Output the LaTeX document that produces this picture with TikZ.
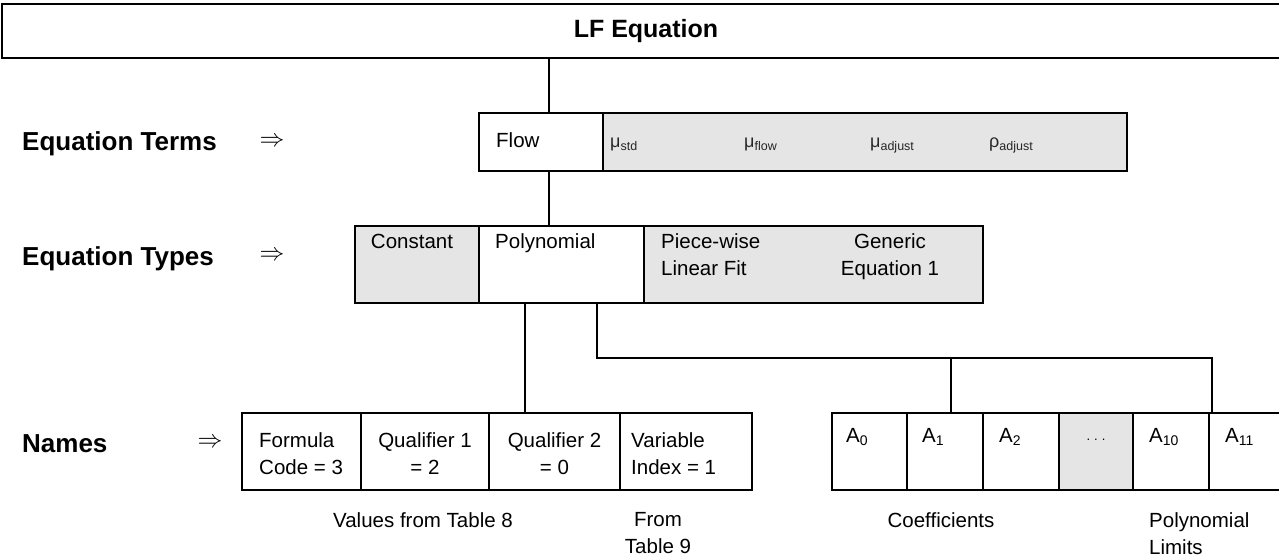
\documentclass[tikz,border=0pt]{standalone}
\usepackage{fontspec}
\setmainfont{Liberation Sans}
\newcommand{\sbs}[1]{\raisebox{-3.5pt}{\fontsize{14}{14}\selectfont #1}}
\newcommand{\gmu}[2]{{\fontsize{18}{18}\selectfont #1\raisebox{-3pt}{\fontsize{12.5}{12.5}\selectfont #2}}}
\begin{document}
\begin{tikzpicture}[x=1pt,y=-1pt,
  cellw/.style={draw, line width=1.5pt, inner sep=0pt, fill=white},
  cellg/.style={draw, line width=1.5pt, inner sep=0pt, fill=gray!20},
  txt/.style={inner sep=0pt, font=\fontsize{20.5}{27}\selectfont},
  lab/.style={inner sep=0pt, font=\fontsize{26}{30}\selectfont\bfseries},
  arr/.style={inner sep=0pt, font=\fontsize{27}{28}\selectfont},
  mutxt/.style={inner sep=0pt, text=black!85},
  conn/.style={line width=1.4pt}]
\useasboundingbox (0,0) rectangle (1279,556);
\clip (0,0) rectangle (1279,556);

% title
\node[draw, line width=2.2pt, inner sep=0pt, minimum width=1288pt, minimum height=54pt,
      font=\fontsize{25}{28}\selectfont\bfseries] (title) at (646,31) {LF Equation};

% row labels
\node[lab, anchor=base west] (lterms) at (22,151) {Equation Terms};
\node[arr] (aterms) at (272,142) {$\Rightarrow$};
\node[lab, anchor=base west] (ltypes) at (22,265) {Equation Types};
\node[arr] (atypes) at (272,256) {$\Rightarrow$};
\node[lab, anchor=base west] (lnames) at (22,452) {Names};
\node[arr] (anames) at (210,443) {$\Rightarrow$};

% equation terms
\node[cellw, minimum width=124pt, minimum height=58pt] (flow) at (541,142) {};
\node[cellg, minimum width=524pt, minimum height=58pt] (terms) at (865,142) {};
\node[txt, anchor=base west] (tflow) at (496,148) {Flow};
\node[mutxt, anchor=base west] (mstd) at (610,148) {\gmu{μ}{std}};
\node[mutxt, anchor=base west] (mflow) at (744,148) {\gmu{μ}{flow}};
\node[mutxt, anchor=base west] (madj) at (870,148) {\gmu{μ}{adjust}};
\node[mutxt, anchor=base west] (radj) at (989,148) {\gmu{ρ}{adjust}};

% equation types
\node[cellg, minimum width=124pt, minimum height=77pt] (const) at (417,264.5) {};
\node[cellw, minimum width=165pt, minimum height=77pt] (poly) at (561.5,264.5) {};
\node[cellg, minimum width=339pt, minimum height=77pt] (piece) at (813.5,264.5) {};
\node[txt, anchor=base] (tconst) at (412,248) {Constant};
\node[txt, anchor=base west] (tpoly) at (495,248) {Polynomial};
\node[txt, anchor=north west, align=left] (tpiece) at (661,233) {Piece-wise\\Linear Fit};
\node[txt, anchor=north, align=center] (tgen) at (890,233) {Generic\\Equation 1};

% names, first group
\node[cellw, minimum width=119pt, minimum height=77pt] (fc) at (301.5,451.5) {};
\node[cellw, minimum width=128pt, minimum height=77pt] (q1) at (425,451.5) {};
\node[cellw, minimum width=131pt, minimum height=77pt] (q2) at (554.5,451.5) {};
\node[cellw, minimum width=132pt, minimum height=77pt] (vi) at (686,451.5) {};
\node[txt, anchor=north west, align=left] (tfc) at (259,432) {Formula\\Code = 3};
\node[txt, anchor=north, align=center] (tq1) at (425,432) {Qualifier 1\\= 2};
\node[txt, anchor=north, align=center] (tq2) at (554.5,432) {Qualifier 2\\= 0};
\node[txt, anchor=north west, align=left] (tvi) at (631,432) {Variable\\Index = 1};

% names, coefficients
\node[cellw, minimum width=75pt, minimum height=77pt] (a0) at (869.5,451.5) {};
\node[cellw, minimum width=76pt, minimum height=77pt] (a1) at (945,451.5) {};
\node[cellw, minimum width=76pt, minimum height=77pt] (a2) at (1021,451.5) {};
\node[cellg, minimum width=74pt, minimum height=77pt] (ad) at (1096,451.5) {};
\node[cellw, minimum width=76pt, minimum height=77pt] (a10) at (1171,451.5) {};
\node[cellw, minimum width=76pt, minimum height=77pt] (a11) at (1247,451.5) {};
\node[txt, anchor=base west] (ta0) at (846,442) {A\sbs{0}};
\node[txt, anchor=base west] (ta1) at (922,442) {A\sbs{1}};
\node[txt, anchor=base west] (ta2) at (999,442) {A\sbs{2}};
\node[inner sep=0pt, font=\fontsize{13}{13}\selectfont, anchor=base] (tad) at (1096,440) {.\hspace{4pt}.\hspace{4pt}.};
\node[txt, anchor=base west] (ta10) at (1149,442) {A\sbs{10}};
\node[txt, anchor=base west] (ta11) at (1225,442) {A\sbs{11}};

% bottom captions
\node[txt, anchor=base] (cval) at (423,527) {Values from Table 8};
\node[txt, anchor=north, align=center] (cfrom) at (658,512) {From\\Table 9};
\node[txt, anchor=base] (ccoef) at (941,527) {Coefficients};
\node[txt, anchor=north west, align=left] (clim) at (1149,512) {Polynomial\\Limits};

% connector guides
\coordinate (xa) at (549,0);
\coordinate (xb) at (525,0);
\coordinate (xc) at (597,0);
\coordinate (xd) at (951,0);
\coordinate (xe) at (1212,0);
\coordinate (hy) at (0,358);

\draw[conn] (title.south -| xa) -- (flow.north -| xa);
\draw[conn] (flow.south -| xa) -- (poly.north -| xa);
\draw[conn] (poly.south -| xb) -- (q2.north -| xb);
\draw[conn] (poly.south -| xc) -- (xc |- hy) -- (xe |- hy) -- (a11.north -| xe);
\draw[conn] (xd |- hy) -- (a1.north -| xd);
\end{tikzpicture}
\end{document}
